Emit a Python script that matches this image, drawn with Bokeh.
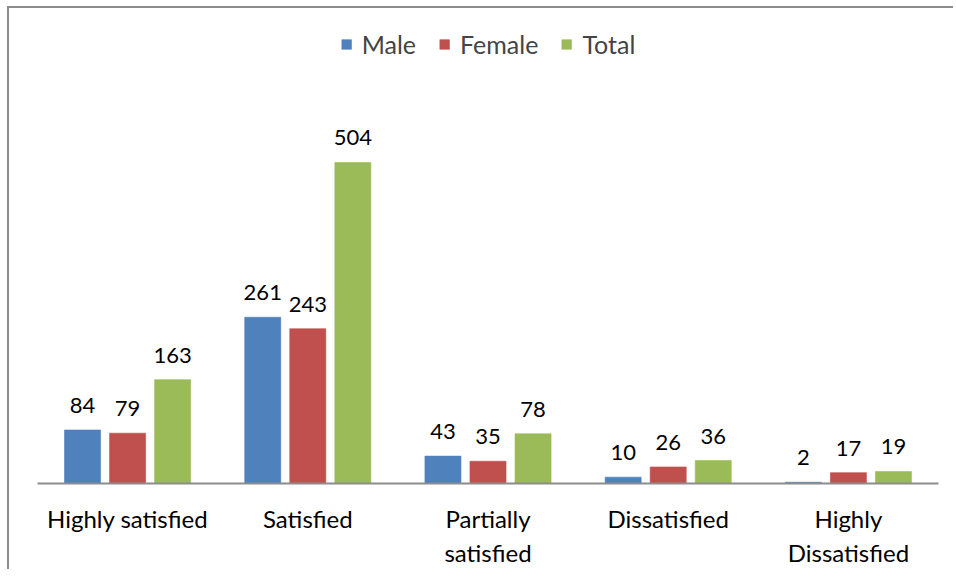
from bokeh.plotting import figure
from bokeh.models import ColumnDataSource, LabelSet, Legend, LegendItem
from bokeh.core.properties import value
from bokeh.transform import dodge
from bokeh.embed import file_html
from bokeh.resources import INLINE

categories = ["Highly satisfied", "Satisfied", "Partially\nsatisfied", "Dissatisfied", "Highly\nDissatisfied"]
male = [84, 261, 43, 10, 2]
female = [79, 243, 35, 26, 17]
total = [163, 504, 78, 36, 19]
series_names = ["Male", "Female", "Total"]
colors = ["#4F81BD", "#C0504D", "#9BBB59"]

FONT = "Lato"

source = ColumnDataSource(dict(cat=categories, Male=male, Female=female, Total=total))

p = figure(x_range=categories, y_range=(0, 730), width=946, height=563,
           output_backend="svg", toolbar_location=None,
           min_border_left=28, min_border_right=17, min_border_top=10, min_border_bottom=88,
           styles={"border-left": "2px solid #8c8c8c", "border-top": "2px solid #8c8c8c",
                   "margin-left": "7px", "margin-top": "6px"})
p.x_range.range_padding = 0
p.outline_line_color = None
p.xgrid.visible = False
p.ygrid.visible = False
p.yaxis.visible = False

offsets = [-0.25, 0.0, 0.25]
items = []
for name, col, off in zip(series_names, colors, offsets):
    r = p.vbar(x=dodge("cat", off, range=p.x_range), top=name, width=0.2, source=source,
               fill_color=col, line_color=col, line_alpha=0.6)
    items.append(LegendItem(label=name, renderers=[r]))
    labels = LabelSet(x=dodge("cat", off, range=p.x_range), y=name, text=name, source=source,
                      text_align="center", text_baseline="bottom", y_offset=17,
                      text_font=value(FONT), text_font_size="22px", text_color="#000000")
    p.add_layout(labels)

legend = Legend(items=items, orientation="horizontal", location="top_center",
                glyph_width=12, glyph_height=12, label_standoff=10, spacing=22,
                label_text_font=FONT, label_text_font_size="25px",
                border_line_color=None, background_fill_alpha=0, margin=11, padding=2)
p.add_layout(legend, "center")

ax = p.xaxis[0]
ax.axis_line_color = "#8c8c8c"
ax.axis_line_width = 2
ax.major_tick_line_color = None
ax.minor_tick_line_color = None
ax.major_label_standoff = 14
ax.major_label_text_font = FONT
ax.major_label_text_font_size = "24px"
ax.major_label_text_color = "#000000"

open("out.html", "w").write(file_html(p, INLINE))
